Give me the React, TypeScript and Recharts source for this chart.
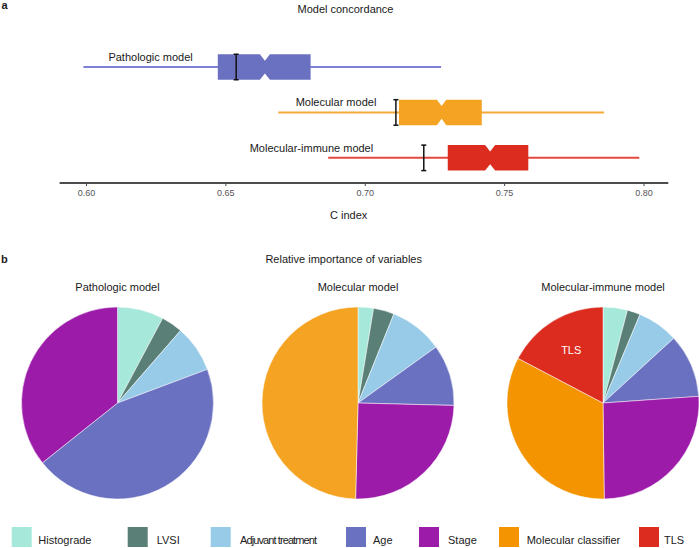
import React from 'react';
import { ComposedChart, Bar, XAxis, YAxis, PieChart, Pie, Cell } from 'recharts';

// panel a: C index distributions
const MODELS = ['Pathologic model', 'Molecular model', 'Molecular-immune model'];
const WHISKER_LOW = [0.5989, 0.6688, 0.6867];
const Q1 = [0.6471, 0.7121, 0.7296];
const MEDIAN = [0.664, 0.7274, 0.7448];
const Q3 = [0.6804, 0.7418, 0.7585];
const WHISKER_HIGH = [0.7272, 0.7857, 0.7983];
const NOTCH_HALF = [0.0018, 0.0017, 0.0018];
const POINT_EST = [0.6537, 0.711, 0.721];
const LABEL_AT = [0.623, 0.6895, 0.6807];
const X_TICKS = [0.6, 0.65, 0.7, 0.75, 0.8];

// panel b: relative importance (%)
const VARIABLES = ['Histograde', 'LVSI', 'Adjuvant treatment', 'Age', 'Stage', 'Molecular classifier', 'TLS'];
const PATHOLOGIC_IMP = [7.8, 3.6, 7.9, 45.0, 35.7];
const MOLECULAR_IMP = [2.6, 3.5, 9.0, 10.3, 25.0, 49.6];
const MOLIMMUNE_IMP = [4.1, 2.2, 6.9, 10.7, 25.9, 32.9, 17.3];

const BOX_FILL = ['#6b71c1', '#f4a322', '#dc2c1f'];
const WHISKER_COLOR = ['#7c81d4', '#f5a93a', '#e4493e'];
const VAR_COLOR: Record<string, string> = {
  Histograde: '#a6e8d9',
  LVSI: '#5a7f76',
  'Adjuvant treatment': '#98cbe7',
  Age: '#6b71c1',
  Stage: '#9c1ca9',
  'Molecular classifier': '#f39400',
  TLS: '#dc2c1f',
};

const FONT = '"Liberation Sans", Arial, sans-serif';

const boxData = MODELS.map((name, i) => ({
  name,
  idx: i,
  lo: WHISKER_LOW[i],
  q1: Q1[i],
  med: MEDIAN[i],
  q3: Q3[i],
  hi: WHISKER_HIGH[i],
  notch: NOTCH_HALF[i],
  est: POINT_EST[i],
  labelAt: LABEL_AT[i],
}));

const toSlices = (values: number[]) => values.map((v, i) => ({ name: VARIABLES[i], value: v }));
const PIES = [
  { title: 'Pathologic model', data: toSlices(PATHOLOGIC_IMP), cx: 117.5 },
  { title: 'Molecular model', data: toSlices(MOLECULAR_IMP), cx: 358 },
  { title: 'Molecular-immune model', data: toSlices(MOLIMMUNE_IMP), cx: 603 },
];

const BoxShape = (props: any) => {
  const { x, y, width, height, payload } = props;
  const p = payload;
  const k = width / (p.q3 - p.q1);
  const px = (v: number) => x + (v - p.q1) * k;
  const top = y;
  const bot = y + height;
  const mid = y + height / 2;
  const d = height * 0.25;
  const L = px(p.q1);
  const R = px(p.q3);
  const nl = px(p.med - p.notch);
  const nr = px(p.med + p.notch);
  const m = px(p.med);
  const e = px(p.est);
  const path = `M${L},${top} H${nl} L${m},${top + d} L${nr},${top} H${R} V${bot} H${nr} L${m},${bot - d} L${nl},${bot} H${L} Z`;
  return (
    <g>
      <line x1={px(p.lo)} x2={px(p.hi)} y1={mid} y2={mid} stroke={WHISKER_COLOR[p.idx]} strokeWidth={2} />
      <path d={path} fill={BOX_FILL[p.idx]} />
      <line x1={e} x2={e} y1={top} y2={bot} stroke="#111" strokeWidth={1.5} />
      <line x1={e - 2.5} x2={e + 2.5} y1={top} y2={top} stroke="#111" strokeWidth={1.5} />
      <line x1={e - 2.5} x2={e + 2.5} y1={bot} y2={bot} stroke="#111" strokeWidth={1.5} />
      <text x={px(p.labelAt)} y={mid - 6} textAnchor="middle" fontSize={11} fill="#1a1a1a" fontFamily={FONT}>
        {p.name}
      </text>
    </g>
  );
};

const RAD = Math.PI / 180;
const tlsLabel = (props: any) => {
  const { cx, cy, midAngle, outerRadius, name } = props;
  if (name !== 'TLS') return null;
  const r = outerRadius * 0.64;
  const lx = cx + r * Math.cos(-midAngle * RAD);
  const ly = cy + r * Math.sin(-midAngle * RAD);
  return (
    <text x={lx} y={ly} fill="#fff" fontSize={11} fontFamily={FONT} textAnchor="middle" dominantBaseline="central">
      TLS
    </text>
  );
};

const LEGEND_SQ = [11.7, 127.7, 210.7, 346, 419, 499, 639];
const LEGEND_TXT = [38.3, 156.7, 240, 373, 448, 526.7, 664];

export default function App() {
  return (
    <div style={{ position: 'absolute', left: 0, top: 0, width: 699, height: 548, background: '#fff', overflow: 'hidden', fontFamily: FONT }}>
      <div style={{ position: 'absolute', left: 0, top: 0 }}>
        <ComposedChart
          width={699}
          height={230}
          data={boxData}
          layout="vertical"
          margin={{ top: 26, right: 30.7, left: 59.6, bottom: 17 }}
        >
          <XAxis
            type="number"
            domain={[0.59035, 0.80872]}
            ticks={X_TICKS}
            allowDataOverflow
            tickFormatter={(v: number) => v.toFixed(2)}
            axisLine={{ stroke: '#111', strokeWidth: 1.5 }}
            tickLine={{ stroke: '#444' }}
            tickSize={3}
            tickMargin={4}
            tick={{ fontSize: 9, fill: '#555', fontFamily: FONT }}
            height={30}
          />
          <YAxis
            type="category"
            dataKey="name"
            width={0}
            tick={false}
            tickLine={false}
            axisLine={{ stroke: '#111', strokeWidth: 1.5 }}
            padding={{ top: 18.3, bottom: 2.5 }}
          />
          <Bar
            dataKey={(d: any) => [d.q1, d.q3]}
            barSize={25.5}
            isAnimationActive={false}
            shape={(props: any) => <BoxShape {...props} />}
          />
        </ComposedChart>
      </div>

      <div style={{ position: 'absolute', left: 0, top: 300 }}>
        <PieChart width={699} height={210} margin={{ top: 0, right: 0, bottom: 0, left: 0 }}>
          {PIES.map((pie, pi) => (
            <Pie
              key={pie.title}
              data={pie.data}
              dataKey="value"
              nameKey="name"
              cx={pie.cx}
              cy={103}
              outerRadius={96}
              startAngle={90}
              endAngle={-270}
              stroke="#fff"
              strokeWidth={0.5}
              labelLine={false}
              label={pi === 2 ? tlsLabel : false}
              isAnimationActive={false}
            >
              {pie.data.map((s) => (
                <Cell
                  key={s.name}
                  fill={pi === 1 && s.name === 'Molecular classifier' ? '#f4a322' : VAR_COLOR[s.name]}
                />
              ))}
            </Pie>
          ))}
        </PieChart>
      </div>

      <svg width={699} height={548} style={{ position: 'absolute', left: 0, top: 0, pointerEvents: 'none' }}>
        <g fontFamily={FONT} fontSize={11} fill="#1a1a1a">
          <text x={1.5} y={9} fontWeight="bold">a</text>
          <text x={345.5} y={13.3} textAnchor="middle">Model concordance</text>
          <text x={348.7} y={219} textAnchor="middle">C index</text>
          <text x={1} y={263} fontWeight="bold">b</text>
          <text x={343.7} y={263} textAnchor="middle">Relative importance of variables</text>
          {PIES.map((pie) => (
            <text key={pie.title} x={pie.cx} y={290.7} textAnchor="middle">
              {pie.title}
            </text>
          ))}
        </g>
        <g fontFamily={FONT} fontSize={11} fill="#222">
          {VARIABLES.map((v, i) => (
            <g key={v}>
              <rect x={LEGEND_SQ[i]} y={527} width={20} height={20} fill={VAR_COLOR[v]} />
              <text
                x={LEGEND_TXT[i]}
                y={544}
                letterSpacing={v === 'Adjuvant treatment' ? -0.9 : 0}
              >
                {v}
              </text>
            </g>
          ))}
        </g>
      </svg>
    </div>
  );
}
